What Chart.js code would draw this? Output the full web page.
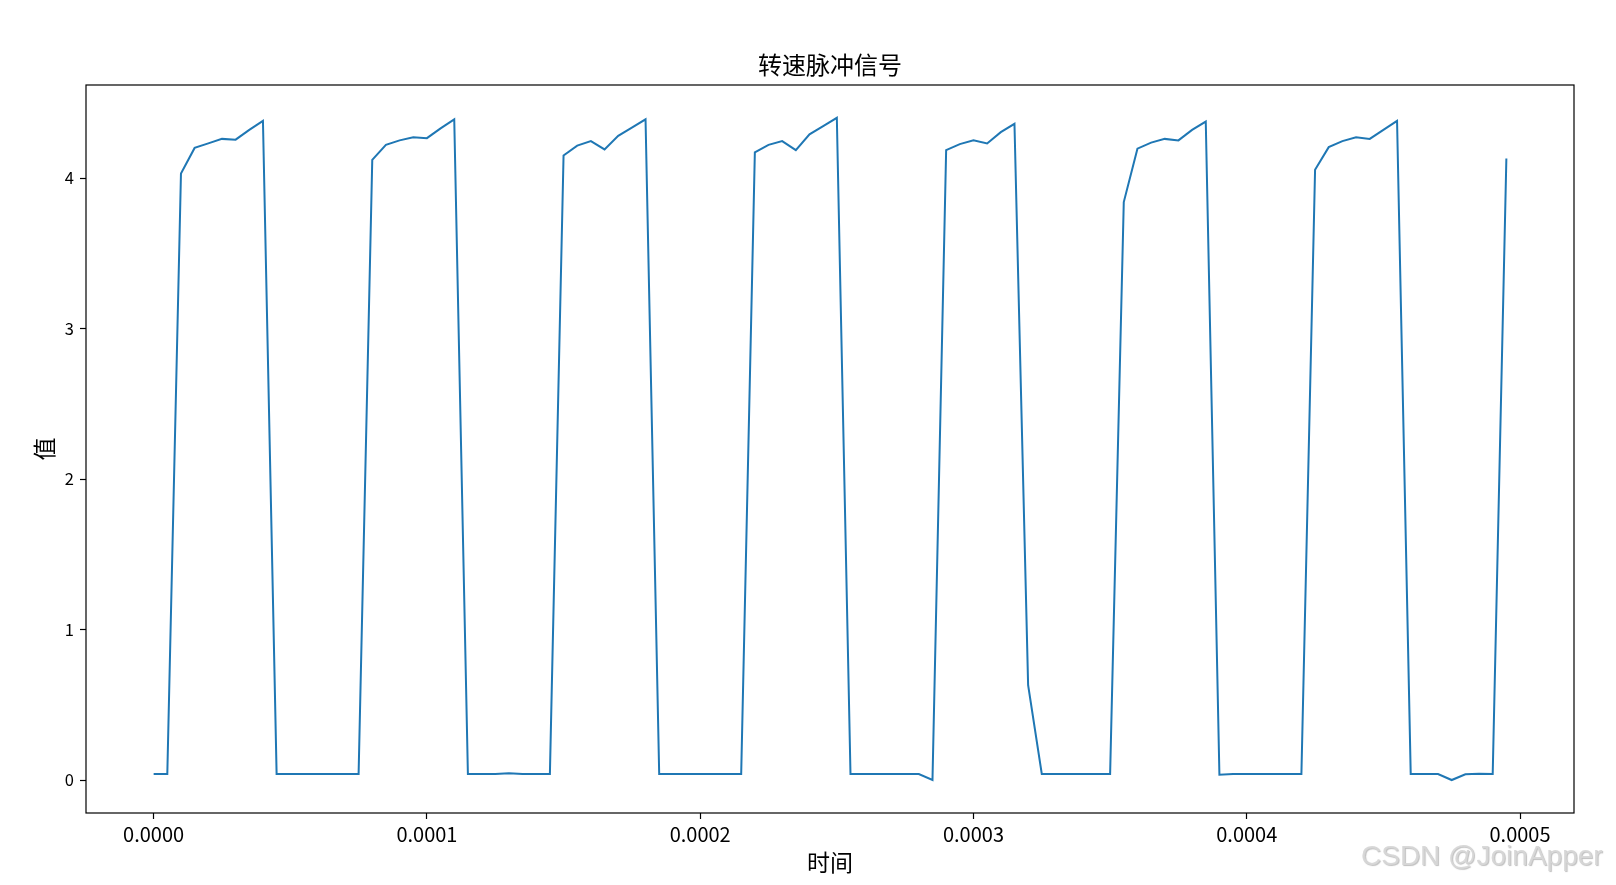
<!DOCTYPE html>
<html>
<head>
<meta charset="utf-8">
<script src="https://cdn.jsdelivr.net/npm/chart.js@4.4.1/dist/chart.umd.min.js"></script>
<style>
  html, body { margin: 0; padding: 0; background: #fff; }
  canvas { display: block; }
</style>
</head>
<body>
<canvas id="pulse" width="1616" height="885" style="width:1616px;height:885px"></canvas>
<script>
// sample times in microseconds
const timeUs = [
  0, 5, 10, 15, 20, 25, 30, 35, 40, 45,
  50, 55, 60, 65, 70, 75, 80, 85, 90, 95,
  100, 105, 110, 115, 120, 125, 130, 135, 140, 145,
  150, 155, 160, 165, 170, 175, 180, 185, 190, 195,
  200, 205, 210, 215, 220, 225, 230, 235, 240, 245,
  250, 255, 260, 265, 270, 275, 280, 285, 290, 295,
  300, 305, 310, 315, 320, 325, 330, 335, 340, 345,
  350, 355, 360, 365, 370, 375, 380, 385, 390, 395,
  400, 405, 410, 415, 420, 425, 430, 435, 440, 445,
  450, 455, 460, 465, 470, 475, 480, 485, 490, 495
];

// pulse values
const signal = [
  0.04, 0.04, 4.03, 4.20, 4.23, 4.26, 4.255, 4.32, 4.38, 0.04,
  0.04, 0.04, 0.04, 0.04, 0.04, 0.04, 4.12, 4.22, 4.25, 4.27,
  4.265, 4.33, 4.39, 0.04, 0.04, 0.04, 0.045, 0.04, 0.04, 0.04,
  4.15, 4.215, 4.245, 4.19, 4.28, 4.335, 4.39, 0.04, 0.04, 0.04,
  0.04, 0.04, 0.04, 0.04, 4.17, 4.22, 4.245, 4.185, 4.29, 4.345,
  4.40, 0.04, 0.04, 0.04, 0.04, 0.04, 0.04, 0.00, 4.185, 4.225,
  4.25, 4.23, 4.305, 4.36, 0.63, 0.04, 0.04, 0.04, 0.04, 0.04,
  0.04, 3.84, 4.195, 4.235, 4.26, 4.25, 4.32, 4.375, 0.035, 0.04,
  0.04, 0.04, 0.04, 0.04, 0.04, 4.055, 4.205, 4.245, 4.27, 4.26,
  4.32, 4.38, 0.04, 0.04, 0.04, 0.00, 0.038, 0.042, 0.04, 4.13
];

const xTicks = [0, 0.0001, 0.0002, 0.0003, 0.0004, 0.0005];
const yTicks = [0, 1, 2, 3, 4];
const xRange = [-0.00002475, 0.00051975];
const yRange = [-0.219, 4.618];

const titleText = '转速脉冲信号';
const FONT = '"Noto Sans CJK SC", "Noto Sans", sans-serif';

// matplotlib style box, title centred over the axes, page watermark
const frameBox = {
  id: 'frameBox',
  afterDraw(chart) {
    const { ctx, chartArea: a } = chart;
    ctx.save();
    ctx.strokeStyle = '#000';
    ctx.lineWidth = 1.2;
    ctx.strokeRect(a.left, a.top, a.right - a.left, a.bottom - a.top);

    ctx.fillStyle = '#000';
    ctx.font = '24px ' + FONT;
    ctx.textAlign = 'center';
    ctx.textBaseline = 'middle';
    ctx.fillText(titleText, (a.left + a.right) / 2, 65);

    ctx.font = '28px "Liberation Sans", Arial, sans-serif';
    ctx.textAlign = 'left';
    ctx.shadowColor = 'rgba(120,120,120,0.5)';
    ctx.shadowOffsetX = 1;
    ctx.shadowOffsetY = 1;
    ctx.shadowBlur = 1;
    ctx.fillStyle = 'rgba(215,215,215,0.95)';
    ctx.fillText('CSDN @JoinApper', 1361, 857);
    ctx.restore();
  }
};

const ctx = document.getElementById('pulse').getContext('2d');
new Chart(ctx, {
  type: 'line',
  data: {
    datasets: [{
      label: titleText,
      data: timeUs.map((t, i) => ({ x: t * 1e-6, y: signal[i] })),
      borderColor: '#1f77b4',
      borderWidth: 2,
      pointRadius: 0,
      tension: 0,
      fill: false
    }]
  },
  options: {
    responsive: false,
    animation: false,
    devicePixelRatio: 1,
    layout: { padding: { left: 0, right: 42, top: 85, bottom: 0 } },
    plugins: {
      legend: { display: false },
      tooltip: { enabled: false },
      title: { display: false }
    },
    scales: {
      x: {
        type: 'linear',
        min: xRange[0],
        max: xRange[1],
        afterBuildTicks: s => { s.ticks = xTicks.map(v => ({ value: v })); },
        afterFit: s => { s.height = 72; },
        grid: { drawOnChartArea: false, drawTicks: true, tickLength: 6, tickColor: '#000', tickWidth: 1.2 },
        border: { display: false },
        ticks: {
          color: '#000',
          padding: 3,
          maxRotation: 0,
          autoSkip: false,
          font: { family: FONT, size: 20 },
          callback: v => Number(v).toFixed(4)
        },
        title: {
          display: true,
          text: '时间',
          color: '#000',
          font: { family: FONT, size: 23, lineHeight: 1.2 },
          padding: { top: 0, bottom: 9.2 }
        }
      },
      y: {
        type: 'linear',
        min: yRange[0],
        max: yRange[1],
        afterBuildTicks: s => { s.ticks = yTicks.map(v => ({ value: v })); },
        afterFit: s => { s.width = 86; },
        grid: { drawOnChartArea: false, drawTicks: true, tickLength: 6, tickColor: '#000', tickWidth: 1.2 },
        border: { display: false },
        ticks: {
          color: '#000',
          padding: 6,
          autoSkip: false,
          font: { family: FONT, size: 16.5 },
          callback: v => String(v)
        },
        title: {
          display: true,
          text: '值',
          color: '#000',
          font: { family: FONT, size: 23, lineHeight: 1.2 },
          padding: { top: 30.2, bottom: 0 }
        }
      }
    }
  },
  plugins: [frameBox]
});
</script>
</body>
</html>
